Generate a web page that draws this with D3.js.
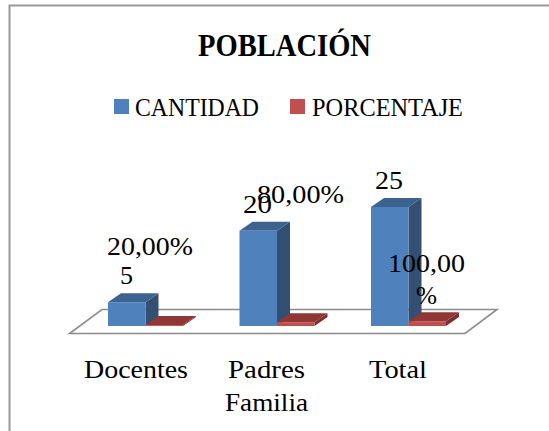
<!DOCTYPE html>
<html><head><meta charset="utf-8">
<script src="https://cdn.jsdelivr.net/npm/d3@7"></script>
<style>html,body{margin:0;padding:0;background:#fff;overflow:hidden}svg{display:block}text{font-family:"Liberation Serif",serif;fill:#000}</style>
</head><body><svg id="c" width="549" height="431"></svg>
<script>
const categories=["Docentes","Padres Familia","Total"];
const categoryLines=[["Docentes"],["Padres","Familia"],["Total"]];
const cantidad=[5,20,25];
const porcentaje=[0.2,0.8,1];
const seriesNames=["CANTIDAD","PORCENTAJE"];
const title="POBLACIÓN";

const svg=d3.select("#c");
svg.append("path").attr("d","M9.5,440V5.5H560").attr("fill","none").attr("stroke","#999").attr("stroke-width",2);

const y=d3.scaleLinear().domain([0,25]).range([326,207]);
const x0=d3.scalePoint().domain(categories).range([108,371]);
const bw=37.5, dx=13, dy=9;

const fl=[[69.5,333.5],[465,333.5],[497,309.5],[102,309.5]];
svg.append("path").attr("d",d3.line()(fl)+"Z").attr("fill","none").attr("stroke","#8c8c8c").attr("stroke-width",1.6);

function bar(g,xl,v,c){
  const t=y(v), b=y(0);
  g.append("polygon").attr("points",[[xl+bw,b],[xl+bw+dx,b-dy],[xl+bw+dx,t-dy],[xl+bw,t]].join(" ")).attr("fill",c.side);
  g.append("polygon").attr("points",[[xl,t],[xl+dx,t-dy],[xl+bw+dx,t-dy],[xl+bw,t]].join(" ")).attr("fill",c.top);
  g.append("rect").attr("x",xl).attr("y",t).attr("width",bw).attr("height",b-t).attr("fill",c.front);
}
const blue={front:"#4f81bd",side:"#334f72",top:"#3c6390"};
const red={front:"#c0504d",side:"#7a2f2d",top:"#8e3735"};
const g=svg.append("g");
categories.forEach((k,i)=>{
  bar(g,x0(k),cantidad[i],blue);
  bar(g,x0(k)+bw,porcentaje[i],red);
});

const fs=26;
// left edge, width and baseline of every text, fitted to the reference
const label=(s,xl,w,yb,size,weight)=>svg.append("text")
  .attr("x",xl).attr("y",yb).attr("font-size",size||fs).attr("font-weight",weight||400)
  .attr("textLength",w).attr("lengthAdjust","spacingAndGlyphs").text(s);

label(title,198,173,56,32,700);

svg.append("rect").attr("x",114).attr("y",99).attr("width",15).attr("height",15).attr("fill","#4f81bd");
label(seriesNames[0],135,124,116);
svg.append("rect").attr("x",290).attr("y",99).attr("width",15).attr("height",15).attr("fill","#c0504d");
label(seriesNames[1],312,151,116);

label(categoryLines[0][0],84,104,378);
label(categoryLines[1][0],228,77,378);
label(categoryLines[1][1],225,83,411);
label(categoryLines[2][0],369,58,378);

label(String(cantidad[0]),120,13,284);
label(String(cantidad[1]),243,29,213);
label(String(cantidad[2]),375,28,189);
label("20,00%",107,86,255);
label("80,00%",257,87,203);
label("100,00",388,77,272);
label("%",416,21,304);
</script></body></html>
